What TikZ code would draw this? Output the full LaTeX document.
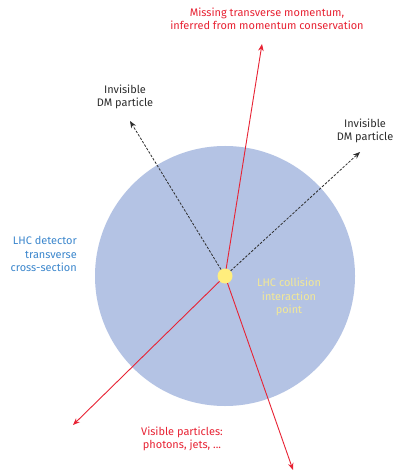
\documentclass[tikz,border=0pt]{standalone}
\usepackage{fontspec}
\setmainfont{Fira Sans}
\usetikzlibrary{arrows.meta}
\definecolor{detblue}{RGB}{180,195,228}
\definecolor{lhcred}{RGB}{232,35,52}
\definecolor{txtblue}{RGB}{60,135,205}
\definecolor{dotyellow}{RGB}{255,238,125}
\definecolor{ipyellow}{RGB}{242,232,150}
\definecolor{dmgray}{RGB}{45,45,45}
\tikzset{
  lbl/.style={align=center,font=\fontsize{11}{13.5}\selectfont,inner sep=0pt},
  redarrow/.style={draw=lhcred,line width=0.9bp,-{Stealth[length=7bp,width=5.5bp]}},
  dmarrow/.style={draw=dmgray,line width=0.8bp,dash pattern=on 2.5bp off 1.5bp,-{Stealth[length=7bp,width=5.5bp]}},
}
\begin{document}
\begin{tikzpicture}[x=1bp,y=-1bp]
\useasboundingbox (0,0) rectangle (396,473);
\fill[white] (0,0) rectangle (396,473);
\node[circle,fill=detblue,minimum size=260bp,inner sep=0pt] (det) at (225,276) {};
\coordinate (ipc) at (225,276);
\coordinate (tup) at (262,44);
\coordinate (tdl) at (73,425);
\coordinate (tdr) at (293,470);
\coordinate (tul) at (130,121);
\coordinate (tur) at (360,152);
\draw[redarrow] (ipc) -- (tup);
\draw[redarrow] (ipc) -- (tdl);
\draw[redarrow] (ipc) -- (tdr);
\node[circle,fill=dotyellow,minimum size=15bp,inner sep=0pt] (ip) at (ipc) {};
\draw[dmarrow] (ip) -- (tul);
\draw[dmarrow] (ip) -- (tur);
\node[lbl,text=lhcred] (mpt) at (267,19) {Missing transverse momentum,\\inferred from momentum conservation};
\node[lbl,text=dmgray] (dm1) at (125,97) {Invisible\\DM particle};
\node[lbl,text=dmgray] (dm2) at (365,131) {Invisible\\DM particle};
\node[lbl,text=txtblue,align=right,anchor=east] (detl) at (77,254) {LHC detector\\transverse\\cross-section};
\node[lbl,text=ipyellow] (ipl) at (289,297) {LHC collision\\interaction\\point};
\node[lbl,text=lhcred] (vis) at (182,439) {Visible particles:\\photons, jets, ...};
\end{tikzpicture}
\end{document}
